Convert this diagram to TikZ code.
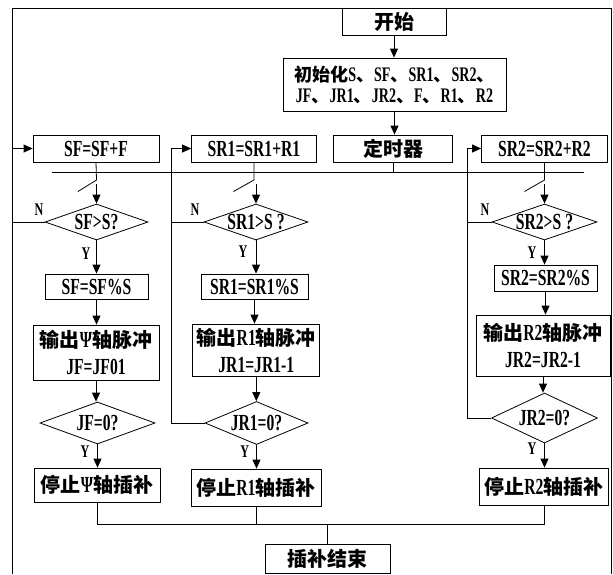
\documentclass[tikz,border=0pt]{standalone}
\usepackage{fontspec}
\setmainfont{Liberation Serif}[FakeStretch=0.68,Scale=1.15]
\newfontfamily\cjk{Noto Sans CJK SC}
\usetikzlibrary{arrows.meta,shapes.geometric}
\newcommand\zh[1]{{\cjk #1}}
\begin{document}
\begin{tikzpicture}[x=1pt,y=-1pt,line width=0.8pt,
  box/.style={draw,rectangle,inner sep=0pt,align=center,font=\fontsize{20}{27}\selectfont\bfseries},
  dia/.style={draw,diamond,inner sep=0pt},
  dl/.style={font=\fontsize{20}{20}\selectfont\bfseries,inner sep=0pt},
  arr/.style={-{Triangle[length=9pt,width=8pt]}},
  yn/.style={font=\fontsize{15.5}{16}\selectfont\bfseries,inner sep=0pt}]
\fill[white] (0,0) rectangle (613,574);
\useasboundingbox (0,0) rectangle (613,574);
% frame
\draw (12,574) -- (12,8) -- (611,8) -- (611,574);
% top
\node[box,minimum width=104pt,minimum height=27pt] (start) at (394,21.5) {\zh{开始}};
\node[box,minimum width=223pt,minimum height=53pt,font=\fontsize{18}{21}\selectfont\bfseries] (init) at (394.5,84.5)
  {\zh{初始化}S\zh{、}SF\zh{、}SR1\zh{、}SR2\zh{、}\\JF\zh{、}JR1\zh{、}JR2\zh{、}F\zh{、}R1\zh{、}R2};
\node[box,minimum width=119pt,minimum height=27pt] (timer) at (393,148.5) {\zh{定时器}};
\node[box,minimum width=126pt,minimum height=27pt] (sf1) at (96,148.5) {SF=SF+F};
\node[box,minimum width=125pt,minimum height=27pt] (sr1a) at (254,148.5) {SR1=SR1+R1};
\node[box,minimum width=126pt,minimum height=27pt] (sr2a) at (544.5,148.5) {SR2=SR2+R2};
% first diamonds
\node[dia,minimum width=103pt,minimum height=36pt,label={[dl]center:SF>S?}] (d1) at (96.5,222) {};
\node[dia,minimum width=104pt,minimum height=36pt,label={[dl]center:SR1>S ?}] (d2) at (256,222) {};
\node[dia,minimum width=105pt,minimum height=36pt,label={[dl]center:SR2>S ?}] (d3) at (544.5,222) {};
% modulo boxes
\node[box,minimum width=103pt,minimum height=25pt] (m1) at (96.5,286.5) {SF=SF\%S};
\node[box,minimum width=107pt,minimum height=25pt] (m2) at (254.5,286.5) {SR1=SR1\%S};
\node[box,minimum width=103pt,minimum height=26pt] (m3) at (545.5,278) {SR2=SR2\%S};
% output boxes
\node[box,minimum width=126pt,minimum height=55pt] (o1) at (96,352.5) {\zh{输出}Ψ\zh{轴脉冲}\\JF=JF01};
\node[box,minimum width=127pt,minimum height=52pt] (o2) at (256.3,350) {\zh{输出}R1\zh{轴脉冲}\\JR1=JR1-1};
\node[box,minimum width=134pt,minimum height=61pt] (o3) at (543,345.5) {\zh{输出}R2\zh{轴脉冲}\\JR2=JR2-1};
% second diamonds
\node[dia,minimum width=115pt,minimum height=42pt,label={[dl]center:JF=0?}] (j1) at (97.5,423) {};
\node[dia,minimum width=103pt,minimum height=43pt,label={[dl]center:JR1=0?}] (j2) at (256.5,423) {};
\node[dia,minimum width=106pt,minimum height=50pt,label={[dl]center:JR2=0?}] (j3) at (544.5,418) {};
% stop boxes
\node[box,minimum width=126pt,minimum height=34pt] (s1) at (97,485) {\zh{停止}Ψ\zh{轴插补}};
\node[box,minimum width=130pt,minimum height=37pt] (s2) at (256,487.5) {\zh{停止}R1\zh{轴插补}};
\node[box,minimum width=129pt,minimum height=37pt] (s3) at (544,486.5) {\zh{停止}R2\zh{轴插补}};
\node[box,minimum width=125pt,minimum height=29pt] (end) at (327.5,558.5) {\zh{插补结束}};
% labels
\node[yn] (n1) at (39,210) {N};
\node[yn] (n2) at (195,210) {N};
\node[yn] (n3) at (485,210) {N};
\node[yn] (y1) at (86,254) {Y};
\node[yn] (y2) at (243,252) {Y};
\node[yn] (y3) at (532,252.7) {Y};
\node[yn] (y4) at (85,452) {Y};
\node[yn] (y5) at (244.7,452) {Y};
\node[yn] (y6) at (532,449) {Y};
% coordinates
\coordinate (busL) at (52,172);
\coordinate (busR) at (584,172);
\coordinate (bb) at (0,524);
\coordinate (lp1) at (12,0);
\coordinate (lp2) at (171,0);
\coordinate (lp3) at (467.5,0);
\coordinate (a1) at (96.5,180); \coordinate (b1) at (78,191.5); \coordinate (c1) at (96.5,184);
\coordinate (a2) at (254,180); \coordinate (b2) at (233.5,191.5); \coordinate (c2) at (256,184);
\coordinate (a3) at (544.5,180); \coordinate (b3) at (524.5,191.5); \coordinate (c3) at (544.5,184);
% top flow
\draw[arr] (start.south) -- (start.south |- init.north);
\draw[arr] (init.south) -- (init.south |- timer.north);
\draw (busL) -- (busR);
\draw (timer.south) -- (timer.south |- busL);
% switches
\draw (sf1.south) -- (a1) -- (b1);
\draw[arr] (c1) -- (d1.north);
\draw (sr1a.south) -- (a2) -- (b2);
\draw[arr] (c2) -- (d2.north);
\draw (sr2a.south) -- (a3) -- (b3);
\draw[arr] (c3) -- (d3.north);
% column flows
\draw[arr] (d1.south) -- (d1.south |- m1.north);
\draw[arr] (m1.south) -- (m1.south |- o1.north);
\draw[arr] (o1.south) -- (o1.south |- j1.north);
\draw[arr] (j1.south) -- (j1.south |- s1.north);
\draw[arr] (d2.south) -- (d2.south |- m2.north);
\draw[arr] (m2.south) -- (m2.south |- o2.north);
\draw[arr] (o2.south) -- (o2.south |- j2.north);
\draw[arr] (j2.south) -- (j2.south |- s2.north);
\draw[arr] (d3.south) -- (d3.south |- m3.north);
\draw[arr] (m3.south) -- (m3.south |- o3.north);
\draw[arr] (o3.south) -- (o3.south |- j3.north);
\draw[arr] (j3.south) -- (j3.south |- s3.north);
% loops
\draw[arr] (d1.west) -- (d1.west -| lp1) -- (lp1 |- sf1.west) -- (sf1.west);
\draw (d2.west) -- (d2.west -| lp2);
\draw[arr] (j2.west) -- (j2.west -| lp2) -- (lp2 |- sr1a.west) -- (sr1a.west);
\draw (d3.west) -- (d3.west -| lp3);
\draw[arr] (j3.west) -- (j3.west -| lp3) -- (lp3 |- sr2a.west) -- (sr2a.west);
% bottom join
\draw (s1.south) -- (s1.south |- bb) -- (s3.south |- bb) -- (s3.south);
\draw (s2.south) -- (s2.south |- bb);
\draw (end.north) -- (end.north |- bb);
\end{tikzpicture}
\end{document}
